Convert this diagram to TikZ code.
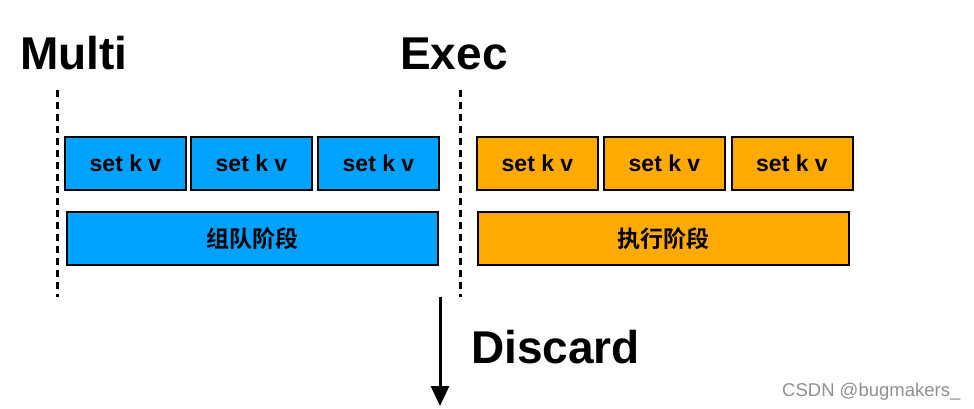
\documentclass[tikz,border=0pt]{standalone}
\usepackage{fontspec}
\setmainfont{Liberation Sans}
\newfontfamily\cjk{Noto Sans CJK SC}[BoldFont={Noto Sans CJK SC Bold}]
\usetikzlibrary{arrows.meta}
\definecolor{boxblue}{HTML}{00A2FF}
\definecolor{boxorange}{HTML}{FFAA00}
\definecolor{wmgray}{HTML}{8F8F8F}
\tikzset{
  cmdbox/.style={draw=black, line width=2pt, minimum width=121pt, minimum height=53pt, inner sep=0pt, font=\fontsize{23}{23}\selectfont\bfseries},
  phasebox/.style={draw=black, line width=2pt, minimum height=53pt, inner sep=0pt, font=\fontsize{23}{23}\selectfont\cjk\bfseries},
  title/.style={anchor=base west, inner sep=0pt, font=\fontsize{46}{46}\selectfont\bfseries},
  sep/.style={line width=3pt, dash pattern=on 7pt off 5pt},
}
\begin{document}
\begin{tikzpicture}[x=1pt,y=-1pt]
\useasboundingbox (0,0) rectangle (974,409);
\node[title] (multi) at (20,70) {Multi};
\node[title] (exec) at (400,70) {Exec};
\coordinate (d1t) at (57,90); \coordinate (d1b) at (57,297);
\coordinate (d2t) at (460,90); \coordinate (d2b) at (460,297);
\draw[sep] (d1t) -- (d1b);
\draw[sep] (d2t) -- (d2b);
\node[cmdbox, fill=boxblue] (b1) at (125.5,163.5) {set k v};
\node[cmdbox, fill=boxblue] (b2) at (251.5,163.5) {set k v};
\node[cmdbox, fill=boxblue] (b3) at (378.5,163.5) {set k v};
\node[phasebox, fill=boxblue, minimum width=371pt] (bp) at (252.5,238.5) {组队阶段};
\node[cmdbox, fill=boxorange] (o1) at (537.5,163.5) {set k v};
\node[cmdbox, fill=boxorange] (o2) at (664.5,163.5) {set k v};
\node[cmdbox, fill=boxorange] (o3) at (792,163.5) {set k v};
\node[phasebox, fill=boxorange, minimum width=371pt] (op) at (663.5,238.5) {执行阶段};
\coordinate (at) at (440,297); \coordinate (ab) at (440,406);
\draw[line width=3pt, -{Triangle[width=18pt,length=20pt]}] (at) -- (ab);
\node[title] (discard) at (471,363) {Discard};
\node[anchor=base west, inner sep=0pt, text=wmgray, font=\fontsize{18.5}{18.5}\selectfont] (wm) at (782,396) {CSDN @bugmakers\_};
\end{tikzpicture}
\end{document}
